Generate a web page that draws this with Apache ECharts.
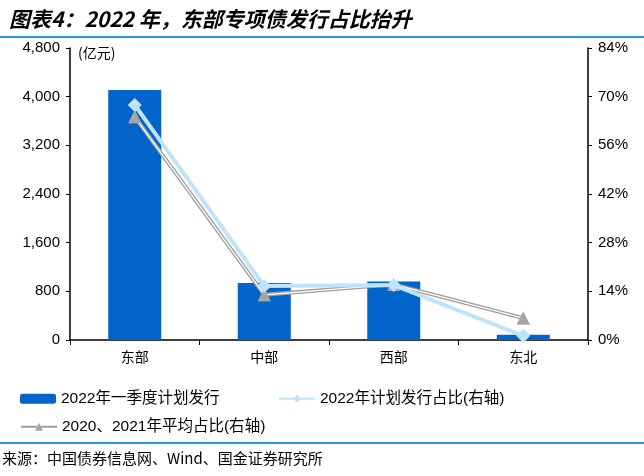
<!DOCTYPE html>
<html><head><meta charset="utf-8">
<script src="https://cdn.jsdelivr.net/npm/echarts@6/dist/echarts.min.js"></script>
<style>html,body{margin:0;padding:0;background:#fff}#c{width:644px;height:476px}</style>
</head><body><div id="c"></div>
<script>
var categories = ['东部', '中部', '西部', '东北'];
var issue2022Q1 = [4110, 935, 960, 85];
var share2022 = [67.6, 15.5, 15.8, 1.2];
var shareAvg = [64.2, 13.0, 16.0, 6.3];
var leftTicks = [0, 800, 1600, 2400, 3200, 4000, 4800];
var rightTicks = [0, 14, 28, 42, 56, 70, 84];

var FONT = 'Liberation Sans, Arial, Noto Sans CJK SC, sans-serif';
var chart = echarts.init(document.getElementById('c'));
chart.setOption({
  animation: false,
  textStyle: {fontFamily: FONT},
  title: {
    text: '图表4：2022 年，东部专项债发行占比抬升',
    left: 4, top: 4,
    textStyle: {fontFamily: 'Noto Sans CJK SC', fontSize: 21, fontWeight: 'bold', fontStyle: 'italic', color: '#000'}
  },
  graphic: [
    {type: 'rect', shape: {x: 0, y: 36, width: 644, height: 2}, style: {fill: '#17A2DF'}},
    {type: 'rect', shape: {x: 0, y: 442, width: 644, height: 2}, style: {fill: '#17A2DF'}},
    {type: 'text', left: 2, top: 451, style: {text: '来源：中国债券信息网、Wind、国金证券研究所', font: '15px "Noto Sans CJK SC"', fill: '#000'}},
    {type: 'text', left: 78, top: 46, style: {text: '(亿元)', font: '14px "Noto Sans CJK SC"', fill: '#000'}}
  ],
  grid: {left: 70, right: 56, top: 48, bottom: 136},
  legend: [
    {data: ['2022年一季度计划发行'], left: 15, top: 386, itemWidth: 36, itemHeight: 10, itemGap: 4,
     textStyle: {fontSize: 15.5, color: '#000', fontFamily: FONT}},
    {data: ['2022年计划发行占比(右轴)'], left: 273, top: 386, itemWidth: 36, itemHeight: 10,
     textStyle: {fontSize: 15.5, color: '#000', fontFamily: FONT}},
    {data: ['2020、2021年平均占比(右轴)'], left: 15, top: 414, itemWidth: 36, itemHeight: 10,
     textStyle: {fontSize: 15.5, color: '#000', fontFamily: FONT}}
  ],
  xAxis: {
    type: 'category', data: categories,
    axisLine: {lineStyle: {color: '#000', width: 1.5}},
    axisTick: {show: true, lineStyle: {color: '#000'}, length: 5},
    axisLabel: {color: '#000', fontSize: 14, margin: 10, fontFamily: 'Noto Sans CJK SC'}
  },
  yAxis: [
    {type: 'value', min: 0, max: 4800, interval: 800,
     axisLine: {show: true, lineStyle: {color: '#000', width: 1.5}},
     axisTick: {show: true, length: 4, lineStyle: {color: '#000'}},
     splitLine: {show: false},
     axisLabel: {color: '#000', fontSize: 15, margin: 10,
       formatter: function (v) { return v.toLocaleString('en-US'); }}},
    {type: 'value', min: 0, max: 84, interval: 14, position: 'right',
     axisLine: {show: true, lineStyle: {color: '#000', width: 1.5}},
     axisTick: {show: true, length: 4, lineStyle: {color: '#000'}},
     splitLine: {show: false},
     axisLabel: {color: '#000', fontSize: 15, margin: 10, formatter: '{value}%'}}
  ],
  series: [
    {name: '2022年一季度计划发行', type: 'bar', data: issue2022Q1, barWidth: 53,
     itemStyle: {color: '#0064CB'}},
    {name: '2020、2021年平均占比(右轴)', type: 'line', yAxisIndex: 1, data: shareAvg,
     symbol: 'triangle', symbolSize: 13, z: 3,
     lineStyle: {color: '#9E9E9E', width: 4}, itemStyle: {color: '#A6A6A6'}},
    {name: 'avg-inner', type: 'line', yAxisIndex: 1, data: shareAvg, symbol: 'none', z: 4,
     lineStyle: {color: '#FFFFFF', width: 1.3}, silent: true},
    {name: 'avg-marks', type: 'line', yAxisIndex: 1, data: shareAvg, symbol: 'triangle', symbolSize: 13, z: 5,
     lineStyle: {width: 0, opacity: 0}, itemStyle: {color: '#A6A6A6'}, silent: true},
    {name: '2022年计划发行占比(右轴)', type: 'line', yAxisIndex: 1, data: share2022,
     symbol: 'diamond', symbolSize: 14, z: 6,
     lineStyle: {color: '#BFE4FA', width: 4}, itemStyle: {color: '#BFE4FA'}}
  ]
});
</script></body></html>
